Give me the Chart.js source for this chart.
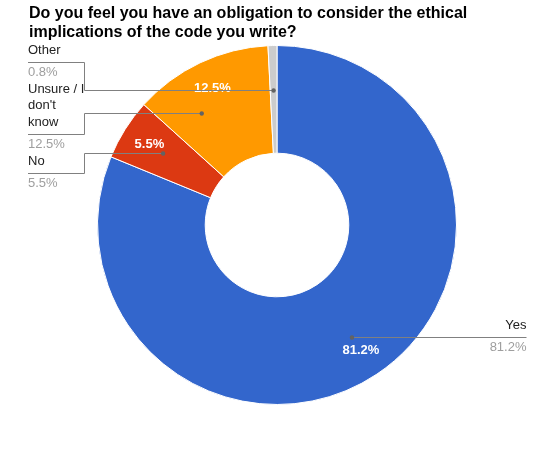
<!DOCTYPE html>
<html>
<head>
<meta charset="utf-8">
<script src="https://cdn.jsdelivr.net/npm/chart.js@4.4.0/dist/chart.umd.min.js"></script>
<style>
    html, body { margin: 0; padding: 0; background: #ffffff; }
    #wrap { position: relative; width: 553px; height: 450px; }
</style>
</head>
<body>
<div id="wrap"><canvas id="ethicsChart" width="553" height="450"></canvas></div>
<script>
const titleLines = ['Do you feel you have an obligation to consider the ethical', 'implications of the code you write?'];
const categories = ['Yes', 'No', 'Unsure / I don\'t know', 'Other'];
const percentages = [81.2, 5.5, 12.5, 0.8];
const sliceColors = ['#3366cc', '#dc3912', '#ff9900', '#cccccc'];

const FONT = '"Liberation Sans", Arial, sans-serif';

// wrap a label into lines no wider than maxWidth
function wrapText(ctx, text, maxWidth) {
    const words = text.split(' ');
    const lines = [];
    let line = '';
    words.forEach(function(w) {
        const test = line ? line + ' ' + w : w;
        if (line && ctx.measureText(test).width > maxWidth) {
            lines.push(line);
            line = w;
        } else {
            line = test;
        }
    });
    if (line) lines.push(line);
    return lines;
}

const pieLabels = {
    id: 'pieLabels',
    afterDraw: function(chart) {
        const ctx = chart.ctx;
        const arcs = chart.getDatasetMeta(0).data;
        const cx = arcs[0].x;
        const cy = arcs[0].y;
        const outer = arcs[0].outerRadius;
        const dotR = outer * 0.75;
        const textR = outer * 0.84;

        ctx.save();

        // title
        ctx.fillStyle = '#000000';
        ctx.font = 'bold 16px ' + FONT;
        ctx.textAlign = 'left';
        ctx.textBaseline = 'alphabetic';
        titleLines.forEach(function(t, i) {
            ctx.fillText(t, 29, 18 + i * 19);
        });

        // percentages inside slices
        ctx.font = 'bold 13px ' + FONT;
        ctx.fillStyle = '#ffffff';
        ctx.textAlign = 'center';
        ctx.textBaseline = 'middle';
        arcs.forEach(function(arc, i) {
            if (percentages[i] < 5) return;
            const mid = (arc.startAngle + arc.endAngle) / 2;
            ctx.fillText(percentages[i].toFixed(1) + '%', cx + textR * Math.cos(mid), cy + textR * Math.sin(mid));
        });

        // outside labels with leader lines
        const nudge = [0, 0, 10, 0];
        const items = arcs.map(function(arc, i) {
            const mid = (arc.startAngle + arc.endAngle) / 2;
            const lineY = cy + dotR * Math.sin(mid) + nudge[i];
            const right = Math.cos(mid) >= 0;
            const dy = lineY - cy;
            const dx = Math.sqrt(Math.max(0, dotR * dotR - dy * dy));
            return { i: i, lineY: lineY, right: right, dotX: right ? cx + dx : cx - dx };
        });

        ctx.lineWidth = 1;
        ctx.strokeStyle = '#808080';

        function drawDot(x, y) {
            ctx.fillStyle = '#636363';
            ctx.beginPath();
            ctx.arc(x, y, 2.2, 0, Math.PI * 2);
            ctx.fill();
        }

        // left side: stacked from the top
        const leftX = 28, bracketX = 84.5, lineH = 16.3;
        let y = 50.7;
        ctx.font = '13px ' + FONT;
        items.filter(function(it) { return !it.right; })
            .sort(function(a, b) { return a.lineY - b.lineY; })
            .forEach(function(it) {
                const lines = wrapText(ctx, categories[it.i], 58);
                ctx.textAlign = 'left';
                ctx.textBaseline = 'middle';
                ctx.fillStyle = '#222222';
                lines.forEach(function(l, k) {
                    ctx.fillText(l, leftX, y + k * lineH);
                });
                const gapY = Math.round(y + (lines.length - 1) * lineH + 11.5) + 0.5;
                const valY = gapY + 10;
                ctx.fillStyle = '#9e9e9e';
                ctx.fillText(percentages[it.i].toFixed(1) + '%', leftX, valY);

                const ly = Math.round(it.lineY) + 0.5;
                ctx.beginPath();
                ctx.moveTo(leftX, gapY);
                ctx.lineTo(bracketX, gapY);
                ctx.lineTo(bracketX, ly);
                ctx.lineTo(it.dotX, ly);
                ctx.stroke();
                drawDot(it.dotX, ly);

                y = valY + 17;
            });

        // right side: label sits on the leader line
        const rightX = 526.5;
        items.filter(function(it) { return it.right; }).forEach(function(it) {
            const ly = Math.round(it.lineY) + 0.5;
            ctx.beginPath();
            ctx.moveTo(it.dotX, ly);
            ctx.lineTo(rightX, ly);
            ctx.stroke();
            drawDot(it.dotX, ly);

            ctx.textAlign = 'right';
            ctx.textBaseline = 'middle';
            ctx.fillStyle = '#222222';
            ctx.fillText(categories[it.i], rightX, ly - 12);
            ctx.fillStyle = '#9e9e9e';
            ctx.fillText(percentages[it.i].toFixed(1) + '%', rightX, ly + 9.5);
        });

        ctx.restore();
    }
};

const ctx = document.getElementById('ethicsChart').getContext('2d');
const chart = new Chart(ctx, {
    type: 'doughnut',
    data: {
        labels: categories,
        datasets: [{
            data: percentages,
            backgroundColor: sliceColors,
            borderColor: '#ffffff',
            borderWidth: 1,
            hoverOffset: 0
        }]
    },
    options: {
        responsive: false,
        animation: false,
        cutout: '40%',
        layout: {
            padding: { top: 45, bottom: 45, left: 97, right: 96 }
        },
        plugins: {
            legend: { display: false },
            tooltip: { enabled: false },
            title: { display: false }
        },
        events: []
    },
    plugins: [pieLabels]
});
</script>
</body>
</html>
